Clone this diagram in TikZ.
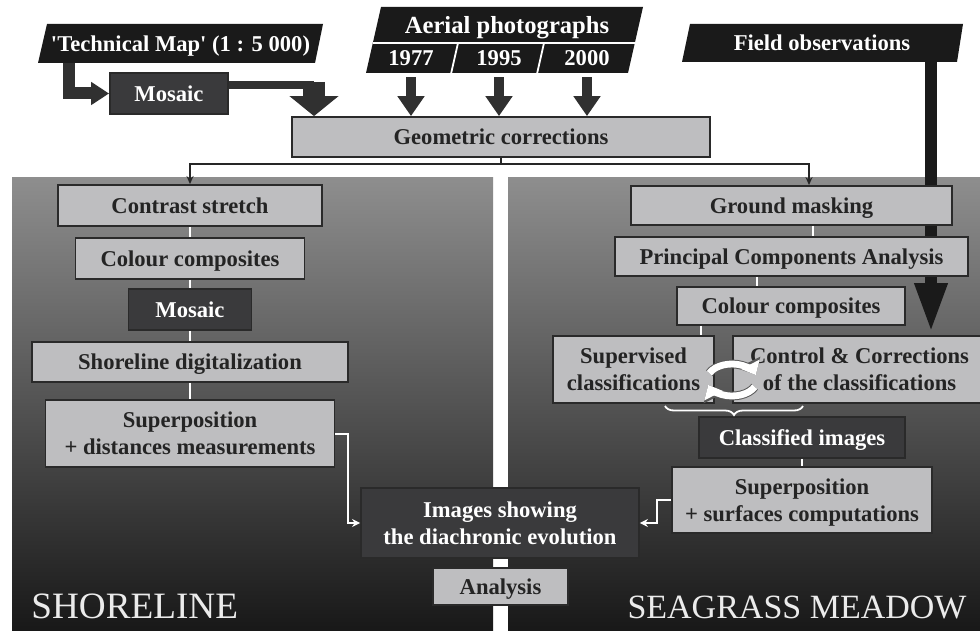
\documentclass[tikz,border=0pt]{standalone}
\usepackage{fontspec}
\setmainfont{Liberation Serif}
\usetikzlibrary{arrows.meta,calc,decorations.pathreplacing}
\definecolor{boxfill}{RGB}{190,190,192}
\definecolor{boxedge}{RGB}{42,42,42}
\definecolor{ink}{RGB}{36,36,36}
\definecolor{darkfill}{RGB}{58,58,60}
\definecolor{hdrfill}{RGB}{26,26,26}
\definecolor{pantop}{RGB}{142,142,142}
\definecolor{panbot}{RGB}{24,24,24}
\definecolor{fatcol}{RGB}{48,48,48}
\newcommand{\boxfont}{\bfseries\fontsize{11.3}{13.5}\selectfont}
\tikzset{
  sz/.style 2 args={minimum width=#1*0.5pt, minimum height=#2*0.5pt},
  box/.style={draw=boxedge, fill=boxfill, line width=0.9pt, text=ink, font=\boxfont, align=center, inner sep=0pt, text depth=0pt},
  dbox/.style={box, fill=darkfill, text=white},
  hdr/.style={text=white, font=\boxfont, align=center, inner sep=0pt, text depth=0pt},
  panel/.style={top color=pantop, bottom color=panbot, draw=none},
  fat/.style={draw=fatcol, line width=5pt, -{Triangle[width=13pt, length=10pt]}},
  link/.style={draw=white, line width=1.2pt},
  wire/.style={draw=black!85, line width=0.9pt, -{Stealth[length=4pt, width=3.5pt]}},
  warrow/.style={draw=white, line width=1pt, -{Stealth[length=4pt, width=4pt]}},
  zonename/.style={text=white!92!black, anchor=base west, inner sep=0pt},
}

\begin{document}
\begin{tikzpicture}[x=0.5pt, y=-0.5pt]
  \tikzset{cyc/.style={draw=white, line width=3.4pt, -{Triangle[width=10pt, length=6pt]}},
           cycedge/.style={draw=black!65, line width=4.4pt, -{Triangle[width=12pt, length=7.2pt]}}}
  \useasboundingbox (0,0) rectangle (980,631);
  \fill[white] (0,0) rectangle (980,631);
  \shade[panel] (12,177) rectangle (493,631);
  \shade[panel] (508,177) rectangle (980,631);

  % sources
  \fill[hdrfill] (38,63) -- (47,24) -- (323,24) -- (315,63) -- cycle;
  \node[hdr, sz={270}{39}] (techmap) at (180.5,43.5) {\textquotesingle Technical Map\textquotesingle\ (1 : 5 000)};
  \fill[hdrfill] (366,73) -- (381,7) -- (643,7) -- (628,73) -- cycle;
  \draw[white, line width=0.9pt] (372.8,43) -- (634.8,43);
  \draw[white, line width=0.9pt] (458,43) -- (451.2,73);
  \draw[white, line width=0.9pt] (544,43) -- (537.2,73);
  \node[hdr, font=\bfseries\fontsize{12.3}{14}\selectfont] (aerial) at (507,25) {Aerial photographs};
  \node[hdr, sz={40}{30}] (y1977) at (411,58) {1977};
  \node[hdr, sz={40}{30}] (y1995) at (499,58) {1995};
  \node[hdr, sz={40}{30}] (y2000) at (587,58) {2000};
  \fill[hdrfill] (682,62) -- (690,24) -- (963,24) -- (957,62) -- cycle;
  \node[hdr, sz={260}{38}] (field) at (822,43) {Field observations};

  \coordinate (fieldtip) at (931,333);
  \draw[draw=hdrfill, line width=6pt, -{Triangle[width=15pt, length=25pt]}] (field.south -| fieldtip) -- (fieldtip);

  \node[dbox, sz={118}{41}] (mosaicA) at (169,93.5) {Mosaic};
  \node[box, sz={418}{40}] (geo) at (501,137) {Geometric corrections};

  \draw[fat, line width=6pt, -{Triangle[width=11pt, length=9pt]}] (techmap.south -| 69,0) |- (mosaicA.west);
  \coordinate (mbend) at (314,82);
  \draw[draw=fatcol, line width=4pt] (mosaicA.east |- 0,85.5) -- (mbend |- 0,85.5);
  \draw[fat, line width=11pt, -{Triangle[width=24pt, length=10pt]}] (mbend) -- (geo.north -| mbend);
  \foreach \yr in {y1977,y1995,y2000}
    \draw[fat, shorten <=2pt] (\yr.south) -- (\yr |- geo.north);

  % shoreline
  \node[box, sz={264}{41}] (contrast) at (190,205.5) {Contrast stretch};
  \node[box, sz={229}{41}] (colourL) at (190,258.5) {Colour composites};
  \node[dbox, sz={123}{41}] (mosaicL) at (190,309.5) {Mosaic};
  \node[box, sz={316}{40}] (digit) at (190,362) {Shoreline digitalization};
  \node[box, sz={289}{67}] (supL) at (190,433.5) {Superposition\\+ distances measurements};
  \draw[link] (contrast.south) -- (colourL.north);
  \draw[link] (colourL.south) -- (mosaicL.north);
  \draw[link] (mosaicL.south) -- (digit.north);
  \draw[link] (digit.south) -- (supL.north);

  % seagrass meadow
  \node[box, sz={321}{39}] (ground) at (791.5,205.5) {Ground masking};
  \node[box, sz={353}{39}] (pca) at (791.5,256.5) {Principal Components Analysis};
  \node[box, sz={228}{38}] (colourR) at (791,306) {Colour composites};
  \node[box, sz={161}{67}] (superv) at (633.5,369.5) {Supervised\\classifications};
  \node[box, sz={253}{67}] (control) at (859.5,369.5) {Control \& Corrections\\of the classifications};
  \node[dbox, sz={206}{41}] (classified) at (802,437.5) {Classified images};
  \node[box, sz={260}{66}] (supR) at (802,500) {Superposition\\+ surfaces computations};
  \draw[link] (ground.south -| 813,0) -- (pca.north -| 813,0);
  \draw[link] (pca.south -| 757,0) -- (colourR.north -| 757,0);
  \draw[link] (colourR.south -| 701,0) -- (superv.north -| 701,0);
  \draw[link] (classified.south) -- (supR.north);
  \draw[white, line width=0.9pt, decorate, decoration={brace, amplitude=4.5pt}] (803,406) -- (665,406);

  \coordinate (cyc) at (732,380);
  \draw[cycedge] ($(cyc)+(205:25 and 16)$) arc[start angle=205, end angle=342, x radius=25, y radius=16];
  \draw[cyc] ($(cyc)+(205:25 and 16)$) arc[start angle=205, end angle=342, x radius=25, y radius=16];
  \draw[cycedge] ($(cyc)+(25:25 and 16)$) arc[start angle=25, end angle=162, x radius=25, y radius=16];
  \draw[cyc] ($(cyc)+(25:25 and 16)$) arc[start angle=25, end angle=162, x radius=25, y radius=16];

  \draw[wire] (geo.south) -- ++(0,6) -| (contrast.north);
  \draw[wire] (geo.south) -- ++(0,6) -| (ground.north -| 809,0);

  % results
  \node[dbox, sz={278}{70}] (images) at (500,523) {Images showing\\the diachronic evolution};
  \node[box, sz={135}{37}] (analysis) at (500.5,586.5) {Analysis};
  \draw[warrow] (supL.east) -- ++(13,0) |- (images.west);
  \draw[warrow] (supR.west) -- ++(-14,0) |- (images.east);

  \node[zonename, font=\fontsize{18.6}{20}\selectfont] (shore) at (31,618) {SHORELINE};
  \node[zonename, anchor=base east, font=\fontsize{17}{20}\selectfont] (seagrass) at (967,618) {SEAGRASS MEADOW};
\end{tikzpicture}
\end{document}
